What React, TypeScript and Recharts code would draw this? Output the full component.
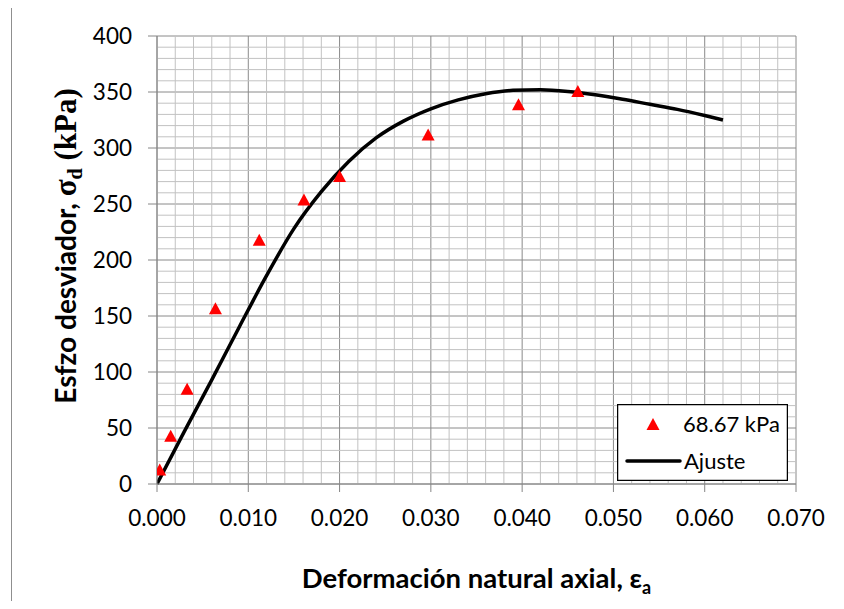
import {
  CartesianGrid,
  ComposedChart,
  Label,
  Legend,
  Line,
  ReferenceLine,
  Scatter,
  XAxis,
  YAxis,
} from "recharts";

// measured points (deformación natural axial, esfuerzo desviador)
const strainPts = [0.0003, 0.0015, 0.0033, 0.0064, 0.0112, 0.0161, 0.02, 0.0297, 0.0396, 0.0461];
const stressPts = [13, 43, 85, 157, 218, 254, 275, 312, 339, 351];

// fitted curve ("Ajuste")
const fitStrain = [
  0, 0.003, 0.006, 0.009, 0.012, 0.015, 0.018, 0.021, 0.024, 0.027, 0.03, 0.033, 0.036, 0.039,
  0.042, 0.045, 0.048, 0.051, 0.054, 0.057, 0.06, 0.062,
];
const fitStress = [
  0, 47, 93, 140, 186, 228, 261, 288, 309, 324, 335, 343, 348.5, 351.5, 352, 350.5, 347.5, 343.5,
  339, 334.5, 329, 325,
];

const xTicks = [0, 0.01, 0.02, 0.03, 0.04, 0.05, 0.06, 0.07];
const yTicks = [0, 50, 100, 150, 200, 250, 300, 350, 400];
// minor grid every 0.002 / every 10 (majors skipped, the CartesianGrid draws those)
const xMinor = Array.from({ length: 36 }, (_, i) => i * 0.002).filter((_, i) => i % 5 !== 0);
const yMinor = Array.from({ length: 41 }, (_, i) => i * 10).filter((_, i) => i % 5 !== 0);

const points = strainPts.map((x, i) => ({ x, y: stressPts[i] }));
const fit = fitStrain.map((x, i) => ({ x, y: fitStress[i] }));

const FONT = "Lato";
const AXIS_GRAY = "#868686";
const MINOR_GRAY = "#c2c2c2";

function Triangle(props: any) {
  const { cx, cy } = props;
  if (cx == null || cy == null) return null;
  return (
    <polygon
      points={`${cx},${cy - 6} ${cx - 6.5},${cy + 6} ${cx + 6.5},${cy + 6}`}
      fill="#ff0000"
    />
  );
}

function XTitle({ viewBox }: any) {
  const cx = viewBox.x + viewBox.width / 2;
  return (
    <text x={cx} y={588} textAnchor="middle" fontFamily={FONT} fontWeight="bold" fontSize={27.5} fill="#000">
      {"Deformación natural axial, ε"}
      <tspan fontSize={18} dy={6}>
        a
      </tspan>
    </text>
  );
}

function YTitle() {
  const x = 76;
  const y = 246;
  return (
    <text
      x={x}
      y={y}
      transform={`rotate(-90 ${x} ${y})`}
      textAnchor="middle"
      fontFamily={FONT}
      fontWeight="bold"
      fontSize={28}
      fill="#000"
    >
      {"Esfzo desviador, "}
      <tspan fontFamily="Liberation Serif" fontSize={31}>
        σ
      </tspan>
      <tspan fontFamily="Liberation Serif" fontSize={20} dy={6}>
        d
      </tspan>
      <tspan fontFamily="Liberation Serif" fontSize={31} dy={-6}>
        {" (kPa)"}
      </tspan>
    </text>
  );
}

function LegendBox() {
  return (
    <svg width={171} height={77} style={{ display: "block" }}>
      <rect x={0.5} y={0.5} width={170} height={76} fill="#fff" stroke="#000" strokeWidth={1.5} />
      <polygon points="36,14 29.5,26 42.5,26" fill="#ff0000" />
      <text x={66} y={28} fontFamily={FONT} fontSize={22} fill="#000">
        68.67 kPa
      </text>
      <line x1={10} y1={57} x2={63} y2={57} stroke="#000" strokeWidth={3.5} strokeLinecap="round" />
      <text x={67} y={65} fontFamily={FONT} fontSize={22} fill="#000">
        Ajuste
      </text>
    </svg>
  );
}

export default function App() {
  return (
    <div
      style={{
        position: "relative",
        width: 844,
        height: 609,
        margin: -8,
        overflow: "hidden",
        background: "#fff",
      }}
    >
      <div
        style={{
          position: "absolute",
          left: 11,
          top: 6,
          width: 900,
          height: 700,
          border: "1px solid #8f8f8f",
        }}
      />
      <div style={{ position: "absolute", left: 0, top: 0 }}>
        <ComposedChart width={844} height={609} margin={{ top: 36, right: 48, left: 0, bottom: 0 }}>
          {xMinor.map((v) => (
            <ReferenceLine key={`vx${v}`} x={v} stroke={MINOR_GRAY} strokeWidth={1} />
          ))}
          {yMinor.map((v) => (
            <ReferenceLine key={`hy${v}`} y={v} stroke={MINOR_GRAY} strokeWidth={1} />
          ))}
          <CartesianGrid stroke="#8a8a8a" />
          <XAxis
            type="number"
            dataKey="x"
            domain={[0, 0.07]}
            ticks={xTicks}
            interval={0}
            tickFormatter={(v: number) => v.toFixed(3)}
            height={125}
            tickSize={8}
            tickMargin={18}
            axisLine={{ stroke: AXIS_GRAY }}
            tickLine={{ stroke: AXIS_GRAY }}
            tick={{ fill: "#000", fontSize: 22.5, fontFamily: FONT }}
            allowDataOverflow
          >
            <Label content={<XTitle />} />
          </XAxis>
          <YAxis
            type="number"
            dataKey="y"
            domain={[0, 400]}
            ticks={yTicks}
            interval={0}
            width={157}
            tickSize={9}
            tickMargin={16}
            axisLine={{ stroke: AXIS_GRAY }}
            tickLine={{ stroke: AXIS_GRAY }}
            tick={{ fill: "#000", fontSize: 22.5, fontFamily: FONT }}
          >
            <Label content={<YTitle />} />
          </YAxis>
          <Scatter
            name="68.67 kPa"
            data={points}
            dataKey="y"
            fill="#ff0000"
            shape={<Triangle />}
            isAnimationActive={false}
          />
          <Line
            name="Ajuste"
            data={fit}
            dataKey="y"
            type="monotone"
            stroke="#000"
            strokeWidth={3.5}
            dot={false}
            activeDot={false}
            isAnimationActive={false}
          />
          <Legend
            layout="vertical"
            align="center"
            verticalAlign="middle"
            wrapperStyle={{ left: 617, top: 404, width: 171, height: 77 }}
            content={() => <LegendBox />}
          />
        </ComposedChart>
      </div>
    </div>
  );
}
